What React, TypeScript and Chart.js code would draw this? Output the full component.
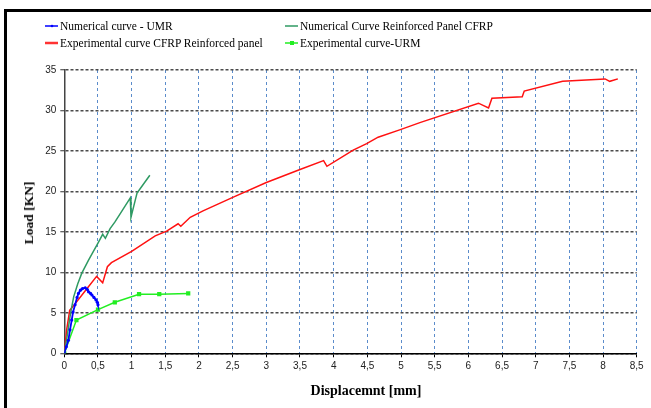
import React, { useEffect, useRef } from "react";
import { Chart, registerables } from "chart.js";

Chart.register(...registerables);

// Numerical curve - UMR
const umrNumX = [0, 0.03, 0.06, 0.085, 0.11, 0.13, 0.16, 0.19, 0.21, 0.24, 0.27, 0.31, 0.34, 0.36, 0.39, 0.41, 0.44, 0.47, 0.49, 0.5];
const umrNumY = [0, 0.8, 1.6, 2.9, 4.1, 5.1, 6.0, 6.9, 7.4, 7.8, 8.0, 8.1, 7.9, 7.6, 7.4, 7.2, 6.9, 6.6, 6.3, 6.0];

// Numerical Curve Reinforced Panel CFRP
const cfrpNumX = [0, 0.04, 0.09, 0.14, 0.2, 0.26, 0.36, 0.5, 0.57, 0.61, 0.68, 0.75, 0.85, 0.98, 0.99, 1.05, 1.08, 1.15, 1.27];
const cfrpNumY = [0, 2.0, 4.8, 7.0, 8.6, 9.9, 11.5, 13.6, 14.7, 14.2, 15.4, 16.2, 17.5, 19.2, 16.8, 18.8, 19.8, 20.6, 22.0];

// Experimental curve CFRP Reinforced panel
const cfrpExpX = [0, 0.035, 0.08, 0.13, 0.3, 0.48, 0.57, 0.64, 0.7, 1.0, 1.35, 1.52, 1.69, 1.73, 1.87, 2.06, 2.51, 3.0, 3.5, 3.85, 3.9, 4.29, 4.49, 4.66, 4.98, 5.28, 6.15, 6.3, 6.35, 6.8, 6.83, 7.4, 8.03, 8.1, 8.22];
const cfrpExpY = [0, 2.9, 5.3, 5.8, 7.6, 9.5, 8.7, 10.7, 11.2, 12.6, 14.5, 15.1, 16.0, 15.7, 16.8, 17.6, 19.3, 21.1, 22.7, 23.8, 23.1, 25.1, 25.9, 26.7, 27.6, 28.5, 30.9, 30.3, 31.5, 31.7, 32.4, 33.6, 33.9, 33.6, 33.9];

// Experimental curve-URM
const urmExpX = [0, 0.18, 0.5, 0.75, 1.11, 1.41, 1.84];
const urmExpY = [0, 4.1, 5.4, 6.3, 7.3, 7.3, 7.4];

const xMin = 0, xMax = 8.5, xStep = 0.5;
const yMin = 0, yMax = 35, yStep = 5;

const toPts = (xs: number[], ys: number[]) => xs.map((x, i) => ({ x, y: ys[i] }));

const legendItems = [
  { label: "Numerical curve - UMR", color: "#0000ff", marker: "dot", left: 45, top: 26, lw: 1.5 },
  { label: "Numerical Curve Reinforced Panel CFRP", color: "#2f9a63", marker: "none", left: 285, top: 26, lw: 1.5 },
  { label: "Experimental curve CFRP Reinforced panel", color: "#ff3333", marker: "none", left: 45, top: 43, lw: 2.5 },
  { label: "Experimental curve-URM", color: "#22ee22", marker: "rect", left: 285, top: 43, lw: 1.5 },
];

export default function App() {
  const ref = useRef<HTMLCanvasElement | null>(null);

  useEffect(() => {
    if (!ref.current) return;
    const chart = new Chart(ref.current, {
      type: "line",
      data: {
        datasets: [
          {
            label: "Numerical curve - UMR",
            data: toPts(umrNumX, umrNumY),
            borderColor: "#0000ff",
            backgroundColor: "#0000ff",
            borderWidth: 1.8,
            pointRadius: 1.6,
            pointStyle: "circle",
            pointBorderWidth: 0,
          },
          {
            label: "Numerical Curve Reinforced Panel CFRP",
            data: toPts(cfrpNumX, cfrpNumY),
            borderColor: "#2f9a63",
            backgroundColor: "#2f9a63",
            borderWidth: 1.5,
            pointRadius: 0,
          },
          {
            label: "Experimental curve CFRP Reinforced panel",
            data: toPts(cfrpExpX, cfrpExpY),
            borderColor: "#ff1111",
            backgroundColor: "#ff1111",
            borderWidth: 1.5,
            pointRadius: 0,
          },
          {
            label: "Experimental curve-URM",
            data: toPts(urmExpX, urmExpY),
            borderColor: "#22ee22",
            backgroundColor: "#22ee22",
            borderWidth: 1.5,
            pointRadius: 3,
            pointStyle: "rect",
            pointBorderWidth: 0,
          },
        ],
      },
      options: {
        animation: false,
        responsive: false,
        maintainAspectRatio: false,
        parsing: false as any,
        layout: { padding: { top: 70, right: 14.3, left: 0, bottom: 0 } },
        plugins: { legend: { display: false }, tooltip: { enabled: false } },
        scales: {
          x: {
            type: "linear",
            min: xMin,
            max: xMax,
            afterFit: (s: any) => { s.height = 54.7; },
            ticks: {
              stepSize: xStep,
              padding: 3,
              color: "#222",
              font: { family: "'Liberation Sans', Arial, sans-serif", size: 10 },
              callback: (v: any) => String(Math.round(Number(v) * 10) / 10).replace(".", ","),
              maxRotation: 0,
              autoSkip: false,
            },
            grid: {
              color: "#5b8ccb",
              lineWidth: 1,
              drawTicks: true,
              tickLength: 4,
              tickColor: "#000",
              tickBorderDash: [],
              tickWidth: 1,
            } as any,
            border: { display: true, color: "#000", width: 1.5, dash: [3, 3] } as any,
          },
          y: {
            type: "linear",
            min: yMin,
            max: yMax,
            afterFit: (s: any) => { s.width = 64.3; },
            ticks: {
              stepSize: yStep,
              padding: 4,
              color: "#222",
              font: { family: "'Liberation Sans', Arial, sans-serif", size: 10 },
            },
            grid: {
              color: "#4a4a4a",
              lineWidth: 1.5,
              drawTicks: true,
              tickLength: 4,
              tickColor: "#333",
              tickBorderDash: [],
              tickWidth: 1,
            } as any,
            border: { display: true, color: "#444", width: 1.5, dash: [3, 2] } as any,
          },
        },
      },
    });
    return () => chart.destroy();
  }, []);

  return (
    <div style={{ position: "absolute", left: 0, top: 0, width: 651, height: 408, overflow: "hidden", background: "#fff" }}>
      <div style={{ position: "absolute", left: 4, top: 9, width: 700, height: 450, border: "3px solid #000", boxSizing: "border-box" }} />
      <canvas ref={ref} width={651} height={408} style={{ position: "absolute", left: 0, top: 0, width: 651, height: 408 }} />
      {legendItems.map((it) => (
        <div key={it.label} style={{ position: "absolute", left: it.left, top: it.top - 8, height: 16, display: "flex", alignItems: "center", whiteSpace: "nowrap" }}>
          <svg width={15} height={16} style={{ display: "block" }}>
            <line x1={0} y1={8} x2={13} y2={8} stroke={it.color} strokeWidth={it.lw} />
            {it.marker === "dot" && <circle cx={7} cy={8} r={1.3} fill={it.color} />}
            {it.marker === "rect" && <rect x={5} y={6} width={4} height={4} fill={it.color} />}
          </svg>
          <span style={{ fontFamily: "'Liberation Serif', 'Times New Roman', serif", fontSize: 11.5, color: "#000", lineHeight: "16px" }}>{it.label}</span>
        </div>
      ))}
      <div style={{ position: "absolute", left: 366, top: 391, transform: "translate(-50%, -50%)", fontFamily: "'Liberation Serif', 'Times New Roman', serif", fontWeight: "bold", fontSize: 14, whiteSpace: "nowrap", color: "#000" }}>
        Displacemnt [mm]
      </div>
      <div style={{ position: "absolute", left: 29, top: 213, transform: "translate(-50%, -50%) rotate(-90deg)", fontFamily: "'Liberation Serif', 'Times New Roman', serif", fontWeight: "bold", fontSize: 13.5, whiteSpace: "nowrap", color: "#000" }}>
        Load [KN]
      </div>
    </div>
  );
}
